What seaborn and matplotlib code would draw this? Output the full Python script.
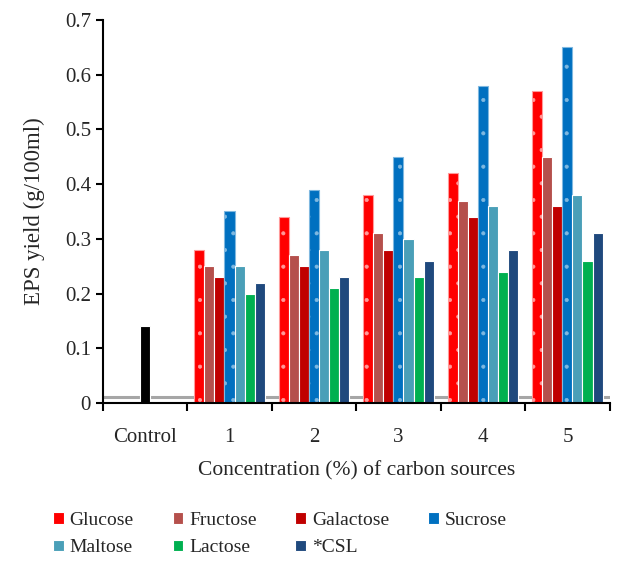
"""
EPS yield by carbon source and concentration (grouped bar chart)
"""
import matplotlib
matplotlib.use("Agg")
import matplotlib.pyplot as plt
import matplotlib.ticker as mticker
import pandas as pd
import seaborn as sns

# ── data ──
categories = ["Control", "1", "2", "3", "4", "5"]
concentrations = ["1", "2", "3", "4", "5"]
sources = ["Glucose", "Fructose", "Galactose", "Sucrose", "Maltose", "Lactose", "*CSL"]
glucose = [0.28, 0.34, 0.38, 0.42, 0.57]
fructose = [0.25, 0.27, 0.31, 0.37, 0.45]
galactose = [0.23, 0.25, 0.28, 0.34, 0.36]
sucrose = [0.35, 0.39, 0.45, 0.58, 0.65]
maltose = [0.25, 0.28, 0.30, 0.36, 0.38]
lactose = [0.20, 0.21, 0.23, 0.24, 0.26]
csl = [0.22, 0.23, 0.26, 0.28, 0.31]
control_value = [0.14]
yticks = [0, 0.1, 0.2, 0.3, 0.4, 0.5, 0.6, 0.7]
ytick_labels = ["0", "0.1", "0.2", "0.3", "0.4", "0.5", "0.6", "0.7"]

colors = ["#FF0000", "#B5504C", "#C00000", "#0070C0", "#4A9FB8", "#00B050", "#1F497D"]
dot_colors = {0: "#FF9A9A", 3: "#7FB8E0"}

series = [glucose, fructose, galactose, sucrose, maltose, lactose, csl]
rows = []
for name, vals in zip(sources, series):
    for c, v in zip(concentrations, vals):
        rows.append({"conc": c, "yield": v, "source": name})
df = pd.DataFrame(rows)

sns.set_style("ticks")
plt.rcParams["font.family"] = ["Liberation Serif", "DejaVu Serif"]
plt.rcParams["hatch.linewidth"] = 0.5

fig = plt.figure(figsize=(6.19, 5.61), dpi=100)
ax = fig.add_axes([0.166, 0.2816, 0.819, 0.6828])

# floor of the pseudo-3D chart
ax.axhline(0.011, color="#A6A6A6", lw=2.2, zorder=0.5)

sns.barplot(data=df, x="conc", y="yield", hue="source", order=categories,
            hue_order=sources, palette=colors, saturation=1, width=0.83,
            edgecolor="white", linewidth=0.8, ax=ax, zorder=2)
sns.barplot(x=["Control"], y=control_value, order=categories, color="black",
            saturation=1, width=0.11, edgecolor="white", linewidth=0.8,
            ax=ax, zorder=2)

# dotted pattern on glucose and sucrose
for i, dc in dot_colors.items():
    for p in ax.containers[i]:
        p.set_hatch(".")
        p.set_edgecolor(dc)

ax.set_ylim(0, 0.7)
ax.set_xlim(-0.5, 5.5)
ax.set_yticks(yticks)
ax.set_yticklabels(ytick_labels)
ax.xaxis.set_minor_locator(mticker.FixedLocator([i - 0.5 for i in range(7)]))
ax.tick_params(axis="x", which="major", length=0, labelsize=15, pad=18)
ax.tick_params(axis="x", which="minor", length=6, width=1.5, color="black")
ax.tick_params(axis="y", length=5, width=1.5, labelsize=15, color="black")
for s in ("left", "bottom"):
    ax.spines[s].set_color("black")
    ax.spines[s].set_linewidth(1.5)
sns.despine(ax=ax)

ax.set_xlabel("Concentration (%) of carbon sources", fontsize=15.5, labelpad=10)
ax.set_ylabel("EPS yield (g/100ml)", fontsize=16.5, labelpad=14)

handles, labels = ax.get_legend_handles_labels()
ax.get_legend().remove()
# row-major ordering for a 4-column legend
order = [0, 4, 1, 5, 2, 6, 3]
fig.legend([handles[i] for i in order], [labels[i] for i in order],
           loc="center", bbox_to_anchor=(0.452, 0.048), ncol=4, frameon=False,
           fontsize=14, handlelength=0.55, handleheight=0.55, handletextpad=0.3,
           columnspacing=2.0, labelspacing=0.55)

fig.savefig("out.png", dpi=100)
plt.close(fig)
